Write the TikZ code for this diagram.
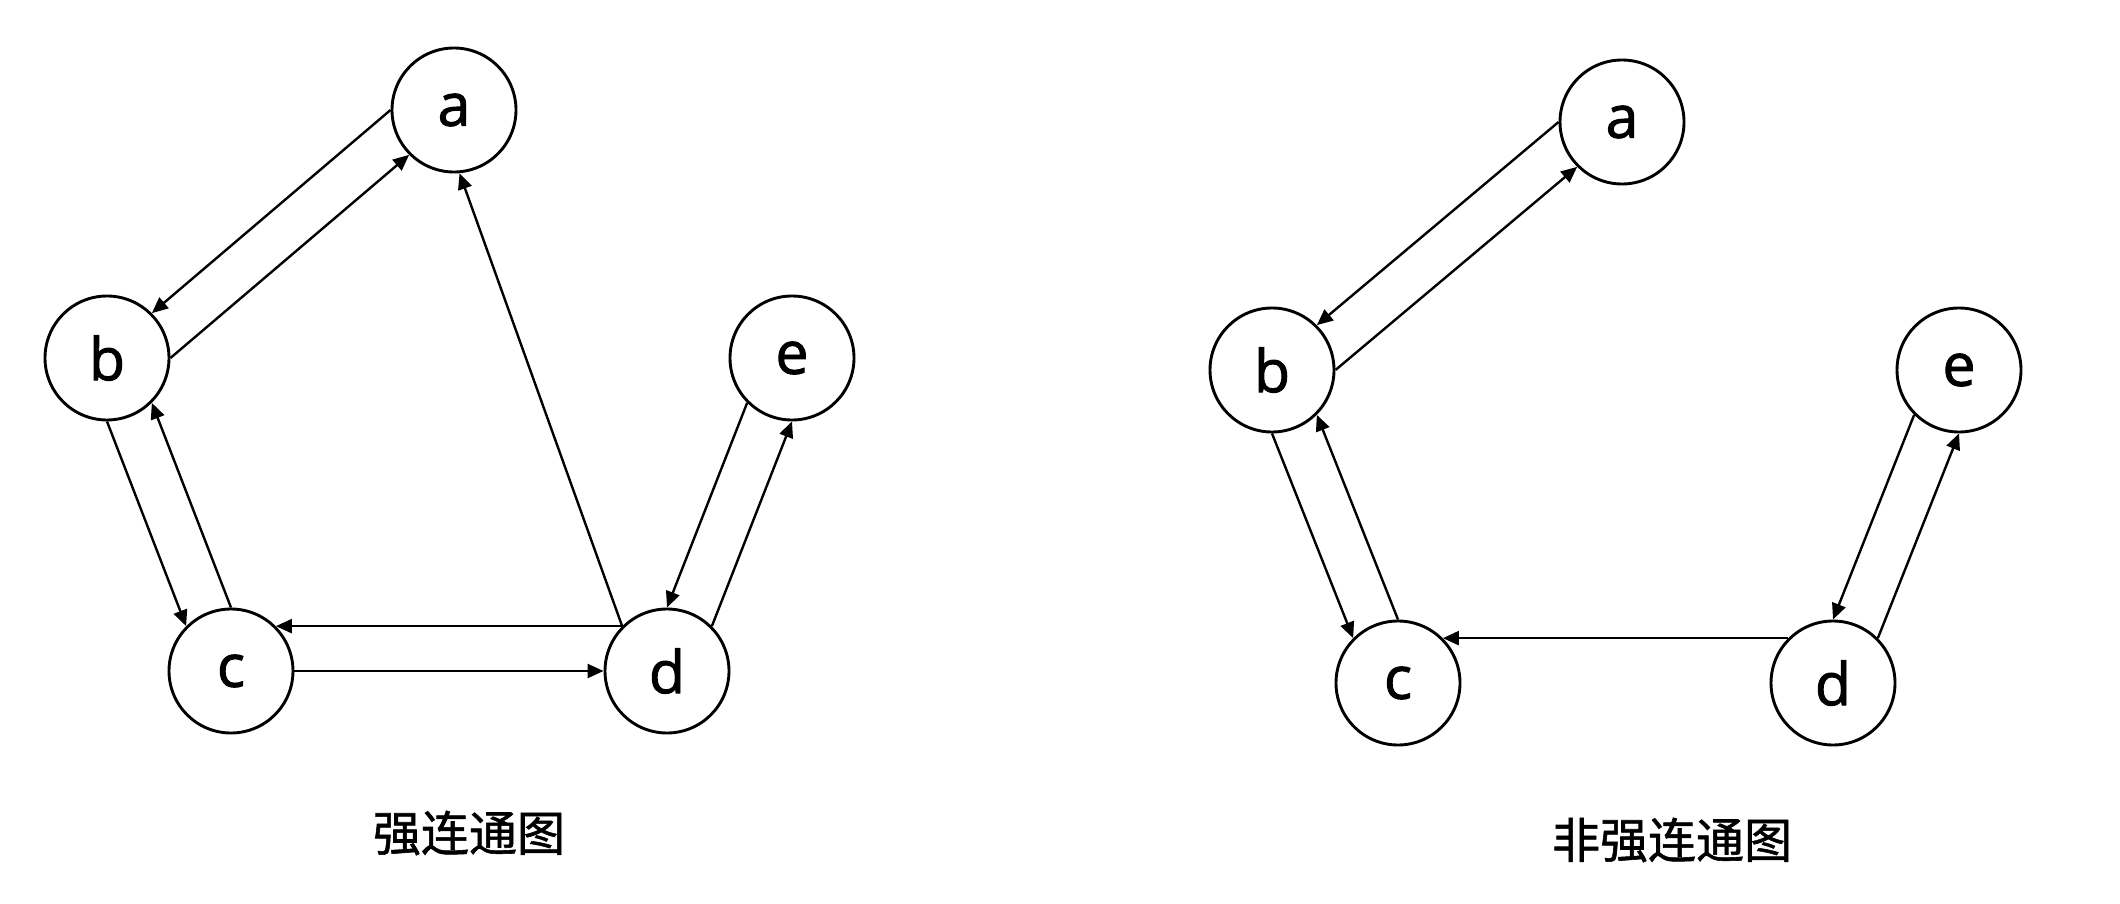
\documentclass[tikz,border=0pt]{standalone}
\usepackage{fontspec}
\setmainfont{Open Sans}
\newfontfamily\vfont[FakeBold=1.6]{Open Sans}
\newfontfamily\cjk[FakeBold=1.2]{Noto Sans CJK SC}
\usetikzlibrary{arrows.meta}

\begin{document}
\begin{tikzpicture}[x=1pt,y=-1pt,
  vertex/.style={draw,circle,line width=2.9pt,minimum size=124pt,inner sep=0pt,
    font=\vfont\fontsize{59}{60}\selectfont},
  arc/.style={line width=2.4pt,-{Triangle[length=16pt,width=14pt]}},
  caption/.style={font=\cjk\fontsize{48}{52}\selectfont}]
  \useasboundingbox (0,0) rectangle (2120,904);
  % strongly connected
  \node[vertex] (a1) at (454,110) {a};
  \node[vertex] (b1) at (107,358) {b};
  \node[vertex] (c1) at (231,671) {c};
  \node[vertex] (d1) at (667,671) {d};
  \node[vertex] (e1) at (792,358) {e};
  \draw[arc] (a1.west) -- (b1.45);
  \draw[arc] (b1.east) -- (a1.225);
  \draw[arc] (b1.south) -- (c1.135);
  \draw[arc] (c1.north) -- (b1.-45);
  \draw[arc] (d1.135) -- (c1.45);
  \draw[arc] (c1.east) -- (d1.west);
  \draw[arc] (d1.135) -- (a1.-85);
  \draw[arc] (e1.225) -- (d1.north);
  \draw[arc] (d1.45) -- (e1.south);
  \node[caption] (t1) at (469,833) {强连通图};
  % not strongly connected
  \node[vertex] (a2) at (1622,122) {a};
  \node[vertex] (b2) at (1272,370) {b};
  \node[vertex] (c2) at (1398,683) {c};
  \node[vertex] (d2) at (1833,683) {d};
  \node[vertex] (e2) at (1959,370) {e};
  \draw[arc] (a2.west) -- (b2.45);
  \draw[arc] (b2.east) -- (a2.225);
  \draw[arc] (b2.south) -- (c2.135);
  \draw[arc] (c2.north) -- (b2.-45);
  \draw[arc] (d2.135) -- (c2.45);
  \draw[arc] (e2.225) -- (d2.north);
  \draw[arc] (d2.45) -- (e2.south);
  \node[caption] (t2) at (1672,840) {非强连通图};
\end{tikzpicture}
\end{document}
